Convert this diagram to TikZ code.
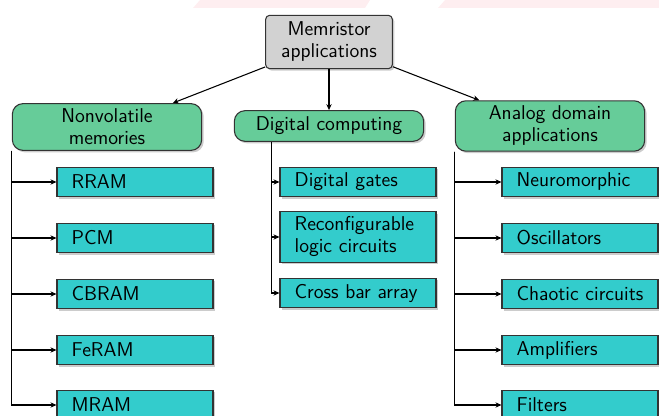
\documentclass[tikz,border=0pt]{standalone}
\usetikzlibrary{arrows.meta,shadows}

\definecolor{rootgray}{RGB}{210,210,210}
\definecolor{catgreen}{RGB}{102,204,153}
\definecolor{leafcyan}{RGB}{51,204,204}
\definecolor{bandpink}{RGB}{254,238,240}

\begin{document}
\begin{tikzpicture}[
  x=0.75pt, y=-0.75pt,
  >={Stealth[length=4.5pt,width=4pt]},
  font=\fontsize{15}{16.5}\selectfont\sffamily,
  box/.style={draw=black!80, line width=0.8pt, drop shadow={shadow xshift=1.5pt, shadow yshift=-1.5pt, opacity=0.4}},
  rootbox/.style={box, fill=rootgray, rounded corners=3pt, minimum width=95pt, minimum height=40pt, align=center},
  catbox/.style={box, fill=catgreen, rounded corners=8pt, minimum width=142pt, minimum height=23pt, inner ysep=4pt, align=center},
  leafbox/.style={box, fill=leafcyan, text width=95pt, inner xsep=11pt, inner ysep=4pt, minimum height=22pt, align=left},
  link/.style={->, line width=0.8pt},
]
  \useasboundingbox (0,0) rectangle (659,416);
  % faint header band
  \fill[bandpink] (193,8) -- (200,0) -- (370,0) -- (365,8) -- cycle;
  \fill[bandpink] (438,8) -- (445,0) -- (659,0) -- (659,8) -- cycle;

  \node[rootbox] (mem) at (329,42) {Memristor\\applications};

  \foreach \name/\x/\y/\txt in {nvm/107/127/{Nonvolatile\\memories}, dig/329/126/{Digital computing}, ana/550/126/{Analog domain\\applications}}
    \node[catbox] (\name) at (\x,\y) {\txt};

  \foreach \name/\x/\y/\txt in {%
      rram/135/182/RRAM, pcm/135/238/PCM, cbram/135/294/CBRAM, feram/135/350/FeRAM, mram/135/405/MRAM,
      gates/358/182/{Digital gates}, logic/358/237/{Reconfigurable\\logic circuits}, xbar/358/293/{Cross bar array},
      neuro/580/182/Neuromorphic, osc/580/238/Oscillators, chaos/580/294/{Chaotic circuits}, amp/580/350/Amplifiers, filt/580/405/Filters}
    \node[leafbox] (\name) at (\x,\y) {\txt};

  \draw[link] (mem) -- (nvm.20);
  \draw[link] (mem) -- (dig);
  \draw[link] (mem) -- (ana.160);

  \foreach \leaf in {rram,pcm,cbram,feram,mram}
    \draw[link] (nvm.south west) |- (\leaf.west);
  \foreach \leaf in {gates,logic,xbar}
    \draw[link] ([xshift=28pt]dig.south west) |- (\leaf.west);
  \foreach \leaf in {neuro,osc,chaos,amp,filt}
    \draw[link] (ana.south west) |- (\leaf.west);
\end{tikzpicture}
\end{document}
